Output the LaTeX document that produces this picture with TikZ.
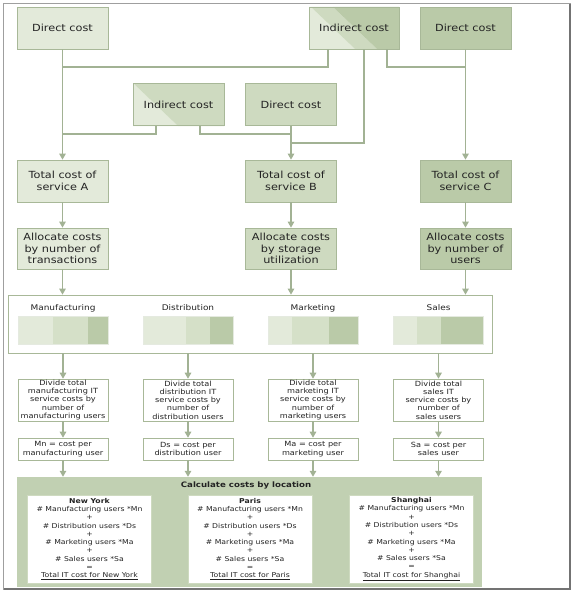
\documentclass[tikz,border=0pt]{standalone}
\usepackage{fontspec}
\setmainfont[FakeStretch=1.15]{DejaVu Sans}
\usetikzlibrary{arrows.meta,positioning}
\definecolor{gLight}{RGB}{227,234,218}
\definecolor{gMid}{RGB}{206,218,192}
\definecolor{gDark}{RGB}{186,202,168}
\definecolor{gBar}{RGB}{213,224,200}
\definecolor{gEdge}{RGB}{168,184,152}
\definecolor{gLine}{RGB}{162,178,148}
\definecolor{gFrame}{RGB}{193,208,178}
\definecolor{txt}{RGB}{35,35,35}
\tikzset{
  costbox/.style={draw=gEdge, line width=0.7pt, minimum width=91pt, minimum height=42pt,
    inner sep=1pt, align=center, text=txt, font=\fontsize{9.8}{11.5}\selectfont},
  smallbox/.style={draw=gEdge, fill=white, line width=0.6pt, minimum width=90pt,
    inner sep=0.5pt, align=center, text=txt, font=\fontsize{7.1}{8.3}\selectfont},
  citybox/.style={draw=gMid, fill=white, line width=0.6pt, minimum width=124pt,
    minimum height=88pt, inner sep=0.5pt, align=center, text=txt,
    font=\fontsize{6.7}{8.3}\selectfont},
  link/.style={draw=gLine, line width=1.3pt},
  arr/.style={link, -{Triangle[width=6.5pt,length=6pt]}},
}
\begin{document}
\begin{tikzpicture}[x=1pt,y=-1pt]
  \useasboundingbox (0,0) rectangle (574,594);
  \draw[gray!75, line width=0.8pt] (3,3) rectangle (570,589);
  \draw[gray!90!black, line width=1.4pt] (570,4) -- (570,589) -- (4,589);

  % top row
  \node[costbox, fill=gLight] (dcA) at (62.5,28) {Direct cost};
  \fill[gLight] (309,7) -- (311,7) -- (355,49) -- (309,49) -- cycle;
  \fill[gMid] (311,7) -- (333,7) -- (377,49) -- (355,49) -- cycle;
  \fill[gDark] (333,7) -- (399,7) -- (399,49) -- (377,49) -- cycle;
  \node[costbox, minimum width=90pt] (indT) at (354,28) {Indirect cost};
  \node[costbox, fill=gDark] (dcC) at (465.5,28) {Direct cost};

  % second row
  \fill[gLight] (133,83) -- (178,126) -- (133,126) -- cycle;
  \fill[gMid] (133,83) -- (224,83) -- (224,126) -- (178,126) -- cycle;
  \node[costbox] (indM) at (178.5,104.5) {Indirect cost};
  \node[costbox, fill=gMid] (dcB) at (291,104.5) {Direct cost};

  % services
  \node[costbox, fill=gLight] (totA) at (62.5,181) {Total cost of\\service A};
  \node[costbox, fill=gMid] (totB) at (291,181) {Total cost of\\service B};
  \node[costbox, fill=gDark] (totC) at (465.5,181) {Total cost of\\service C};
  \node[costbox, fill=gLight, minimum height=41pt] (allA) at (62.5,248.5) {Allocate costs\\by number of\\transactions};
  \node[costbox, fill=gMid, minimum height=41pt] (allB) at (291,248.5) {Allocate costs\\by storage\\utilization};
  \node[costbox, fill=gDark, minimum height=41pt] (allC) at (465.5,248.5) {Allocate costs\\by number of\\users};

  % junctions
  \coordinate (jA) at (62.5,67);
  \coordinate (jC) at (465.5,67);
  \coordinate (jA2) at (62.5,134);
  \coordinate (jB2) at (291,134);
  \coordinate (jB) at (291,143);
  \draw[link] ([xshift=-26pt]indT.south) |- (jA);
  \draw[link] ([xshift=10pt]indT.south) |- (jB);
  \draw[link] ([xshift=33pt]indT.south) |- (jC);
  \draw[link] ([xshift=-22.5pt]indM.south) |- (jA2);
  \draw[link] ([xshift=21.5pt]indM.south) |- (jB2);
  \draw[arr] (dcA) -- (totA);
  \draw[arr] (dcB) -- (totB);
  \draw[arr] (dcC) -- (totC);
  \draw[arr] (totA) -- (allA);
  \draw[arr] (totB) -- (allB);
  \draw[arr] (totC) -- (allC);

  % departments
  \node[draw=gEdge, fill=white, line width=0.7pt, minimum width=484pt, minimum height=58pt] (dept) at (250,324) {};
  \draw[arr] (allA) -- (allA |- dept.north);
  \draw[arr] (allB) -- (allB |- dept.north);
  \draw[arr] (allC) -- (allC |- dept.north);
  \foreach \cx/\a/\b/\dname [count=\i] in {63/35/70/Manufacturing, 188/43/67/Distribution,
      313/24/61/Marketing, 438.5/23/47/Sales}{
    \node[text=txt, font=\fontsize{7.8}{9}\selectfont] (lab\i) at (\cx,308) {\dname};
    \fill[gLight] ({\cx-45},316) rectangle ({\cx-45+\a},344);
    \fill[gBar] ({\cx-45+\a},316) rectangle ({\cx-45+\b},344);
    \fill[gDark] ({\cx-45+\b},316) rectangle ({\cx+45},344);
    \draw[white!70!gEdge, line width=0.5pt] ({\cx-45},316) rectangle ({\cx+45},344);
  }

  % per department
  \node[smallbox, minimum height=42pt] (div1) at (63,400) {Divide total\\manufacturing IT\\service costs by\\number of\\manufacturing users};
  \node[smallbox, minimum height=42pt] (div2) at (188,400) {Divide total\\distribution IT\\service costs by\\number of\\distribution users};
  \node[smallbox, minimum height=42pt] (div3) at (313,400) {Divide total\\marketing IT\\service costs by\\number of\\marketing users};
  \node[smallbox, minimum height=42pt] (div4) at (438.5,400) {Divide total\\sales IT\\service costs by\\number of\\sales users};
  \node[smallbox, minimum height=22pt] (per1) at (63,449) {Mn = cost per\\manufacturing user};
  \node[smallbox, minimum height=22pt] (per2) at (188,449) {Ds = cost per\\distribution user};
  \node[smallbox, minimum height=22pt] (per3) at (313,449) {Ma = cost per\\marketing user};
  \node[smallbox, minimum height=22pt] (per4) at (438.5,449) {Sa = cost per\\sales user};

  % locations
  \node[fill=gFrame, minimum width=465pt, minimum height=110pt] (loc) at (249.5,532) {};
  \node[text=txt, font=\bfseries\fontsize{7.5}{9}\selectfont] (locT) at (246,485) {Calculate costs by location};
  \node[citybox] (ny) at (89.5,539) {\textbf{New York}\\\# Manufacturing users *Mn\\+\\\# Distribution users *Ds\\+\\\# Marketing users *Ma\\+\\\# Sales users *Sa\\=\\\underline{Total IT cost for New York}};
  \node[citybox] (paris) at (250,539) {\textbf{Paris}\\\# Manufacturing users *Mn\\+\\\# Distribution users *Ds\\+\\\# Marketing users *Ma\\+\\\# Sales users *Sa\\=\\\underline{Total IT cost for Paris}};
  \node[citybox] (sh) at (411.5,539) {\textbf{Shanghai}\\\# Manufacturing users *Mn\\+\\\# Distribution users *Ds\\+\\\# Marketing users *Ma\\+\\\# Sales users *Sa\\=\\\underline{Total IT cost for Shanghai}};

  \foreach \i in {1,...,4}{
    \draw[arr] (div\i |- dept.south) -- (div\i);
    \draw[arr] (div\i) -- (per\i);
    \draw[arr] (per\i) -- (per\i |- loc.north);
  }
\end{tikzpicture}
\end{document}
